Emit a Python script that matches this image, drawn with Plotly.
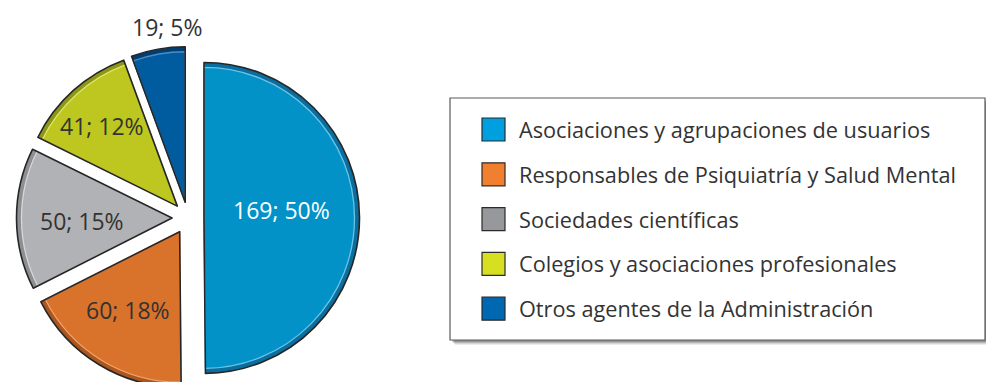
import math
import plotly.graph_objects as go

# Participation by type of agent
categories = [
    "Asociaciones y agrupaciones de usuarios",
    "Responsables de Psiquiatría y Salud Mental",
    "Sociedades científicas",
    "Colegios y asociaciones profesionales",
    "Otros agentes de la Administración",
]
values = [169, 60, 50, 41, 19]
percent_labels = ["50%", "18%", "15%", "12%", "5%"]

slice_colors = ["#0292C7", "#D9722B", "#B1B2B5", "#BDC71F", "#005C9E"]
rim_colors = ["#0A6E9F", "#A9561F", "#8E8F92", "#8E9616", "#003F72"]
highlight_colors = ["#6CC3E6", "#F2A36E", "#D6D7D9", "#DDE470", "#4E8CC4"]
swatch_colors = ["#009FE0", "#F08030", "#97989B", "#D6E021", "#0067B1"]
label_colors = ["#FFFFFF", "#333333", "#333333", "#333333", "#333333"]

# label placement: distance from the slice tip along its bisector (px),
# plus a small pixel nudge (dx, dy)
label_radius = [78, 96, 90, 111, 178]
label_nudge = [(0, -8), (-2, -4), (0, 3), (-1, 2), (13, 0)]

W, H = 986, 392
FONT = "Open Sans"

slice_text = [f"{v}; {p}" for v, p in zip(values, percent_labels)]

# pie geometry in pixels
CX, CY = 188.0, 218.0
R = 155.5
PULL_PX = 16.0
RIM = 5.0


def pie_domain(radius):
    half = radius + PULL_PX
    return dict(x=[(CX - half) / W, (CX + half) / W],
                y=[1 - (CY + half) / H, 1 - (CY - half) / H])


common = dict(labels=categories, values=values, sort=False,
              direction="clockwise", rotation=0, automargin=False,
              showlegend=False, textinfo="none")

fig = go.Figure()
# darker rim under everything
fig.add_trace(go.Pie(
    **common,
    pull=[PULL_PX / R] * len(values),
    marker=dict(colors=rim_colors, line=dict(width=0)),
    domain=pie_domain(R),
    hoverinfo="skip",
))
# main face, slightly inset, with a light bevel line
fig.add_trace(go.Pie(
    **common,
    pull=[PULL_PX / (R - RIM)] * len(values),
    marker=dict(colors=slice_colors, line=dict(color=highlight_colors, width=1.3)),
    domain=pie_domain(R - RIM),
    hoverinfo="skip",
))
# dark outline on top
fig.add_trace(go.Pie(
    **common,
    pull=[PULL_PX / R] * len(values),
    marker=dict(colors=["rgba(0,0,0,0)"] * len(values),
                line=dict(color="#262626", width=1.6)),
    domain=pie_domain(R),
    hoverinfo="label+value+percent",
))

annotations = []
shapes = []

# value labels placed along each slice's bisector
total = sum(values)
cum = 0
for v, t, c, lr, (ndx, ndy) in zip(values, slice_text, label_colors,
                                   label_radius, label_nudge):
    mid = 2 * math.pi * (cum + v / 2) / total
    cum += v
    dist = PULL_PX + lr
    px = CX + math.sin(mid) * dist + ndx
    py = CY - math.cos(mid) * dist + ndy
    annotations.append(dict(xref="paper", yref="paper", x=px / W, y=1 - py / H,
                            xanchor="center", yanchor="middle", showarrow=False,
                            text=t, font=dict(family=FONT, size=23, color=c)))

# legend panel with soft drop shadow
bx0, bx1, by0, by1 = 450, 985, 98, 340
for off, alpha in [(5, 0.07), (4, 0.10), (3, 0.14), (2, 0.18)]:
    shapes.append(dict(type="rect", xref="paper", yref="paper",
                       x0=(bx0 + off) / W, x1=(bx1 + off) / W,
                       y0=1 - (by1 + off) / H, y1=1 - (by0 + off) / H,
                       line=dict(width=0), fillcolor=f"rgba(0,0,0,{alpha})",
                       layer="below"))
shapes.append(dict(type="rect", xref="paper", yref="paper",
                   x0=bx0 / W, x1=bx1 / W, y0=1 - by1 / H, y1=1 - by0 / H,
                   line=dict(color="#5A5A5A", width=1.2), fillcolor="white",
                   layer="below"))

row_y0, row_step = 129.5, 44.8
sw = 23
for i, (name, col) in enumerate(zip(categories, swatch_colors)):
    yc = row_y0 + i * row_step
    shapes.append(dict(type="rect", xref="paper", yref="paper",
                       x0=482 / W, x1=(482 + sw) / W,
                       y0=1 - (yc + sw / 2) / H, y1=1 - (yc - sw / 2) / H,
                       line=dict(color="#2B2B2B", width=1.2), fillcolor=col))
    annotations.append(dict(xref="paper", yref="paper", x=517 / W, y=1 - yc / H,
                            xanchor="left", yanchor="middle", showarrow=False,
                            text=name, font=dict(family=FONT, size=21.7, color="#333333")))

fig.update_layout(
    width=W, height=H,
    margin=dict(l=0, r=0, t=0, b=0, pad=0, autoexpand=False),
    paper_bgcolor="white",
    plot_bgcolor="white",
    shapes=shapes,
    annotations=annotations,
    showlegend=False,
)

fig.write_html("out.html")
